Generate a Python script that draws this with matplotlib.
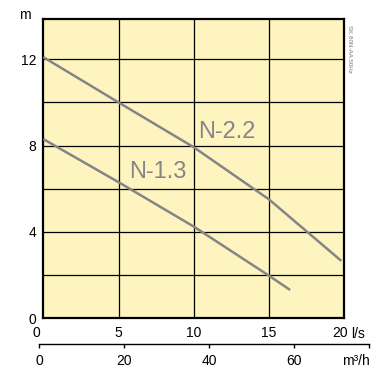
import matplotlib
matplotlib.use("Agg")
import matplotlib.pyplot as plt
import matplotlib.transforms as mtransforms

plt.rcParams['font.family'] = ['Liberation Sans', 'DejaVu Sans']

# data
flow_n22 = [0, 5, 10, 15, 19.8]
head_n22 = [12.1, 10.0, 7.92, 5.5, 2.65]
flow_n13 = [0, 5, 10, 15, 16.4]
head_n13 = [8.3, 6.3, 4.24, 1.96, 1.3]
curve_names = ["N-2.2", "N-1.3"]
label_pos = [(12.2, 8.65), (7.6, 6.75)]
xticks_ls = [0, 5, 10, 15, 20]
yticks_m = [0, 4, 8, 12]
ygrid = [2, 4, 6, 8, 10, 12]
xticks_m3h = [0, 20, 40, 60]

W, H = 390, 371
fig = plt.figure(figsize=(W / 100, H / 100), dpi=100)

L, R, T, B = 43.3, 344.3, 19, 318
ax = fig.add_axes([L / W, 1 - B / H, (R - L) / W, (B - T) / H])
ax.set_facecolor('#FEF4C0')
ax.set_xlim(0, 20)
ax.set_ylim(0, 13.87)

for x in xticks_ls[1:-1]:
    ax.axvline(x, color='black', lw=0.9, zorder=1)
for y in ygrid:
    ax.axhline(y, color='black', lw=0.9, zorder=1)

gray = '#858585'
ax.plot(flow_n22, head_n22, color=gray, lw=1.8, zorder=3, solid_capstyle='butt')
ax.plot(flow_n13, head_n13, color=gray, lw=1.8, zorder=3, solid_capstyle='butt')
for name, (lx, ly) in zip(curve_names, label_pos):
    ax.text(lx, ly, name, color=gray, fontsize=17, ha='center', va='center', zorder=4)

for s in ax.spines.values():
    s.set_linewidth(1.6)
    s.set_color('black')

ax.set_xticks(xticks_ls)
ax.set_xticklabels([str(v) for v in xticks_ls])
ax.set_yticks(yticks_m)
ax.set_yticklabels([str(v) for v in yticks_m])
ax.tick_params(axis='both', length=0, labelsize=10, colors='black')
ax.tick_params(axis='x', pad=6)
ax.tick_params(axis='y', pad=5)

xl = ax.get_xticklabels()
xl[0].set_transform(xl[0].get_transform() + mtransforms.ScaledTranslation(-7 / 100, 0, fig.dpi_scale_trans))
xl[-1].set_transform(xl[-1].get_transform() + mtransforms.ScaledTranslation(-4 / 100, 0, fig.dpi_scale_trans))

fig.text(350.7 / W, 1 - 334 / H, 'l/s', fontsize=10, ha='left', va='center')
fig.text(25 / W, 1 - 15 / H, 'm', fontsize=10, ha='center', va='center')
fig.text(349.3 / W, 1 - 49 / H, 'SK 80N-AA 50Hz', fontsize=4.5, color='#777777',
         rotation=-90, ha='center', va='center')

# m3/h axis
L2, R2, Y2 = 39.3, 369.3, 344.3
ax2 = fig.add_axes([L2 / W, 1 - Y2 / H, (R2 - L2) / W, 0.0001])
ax2.patch.set_visible(False)
for k in ['top', 'left', 'right']:
    ax2.spines[k].set_visible(False)
ax2.spines['bottom'].set_linewidth(1.0)
ax2.set_xlim(0, 77.6)
ax2.set_yticks([])
ax2.set_xticks(xticks_m3h + [77.6])
ax2.set_xticklabels([str(v) for v in xticks_m3h] + [''])
ax2.tick_params(axis='x', direction='out', length=3, width=1.0, labelsize=10, pad=4)
fig.text(355.5 / W, 1 - 361 / H, 'm³/h', fontsize=10, ha='center', va='center')

fig.savefig('out.png', dpi=100)
